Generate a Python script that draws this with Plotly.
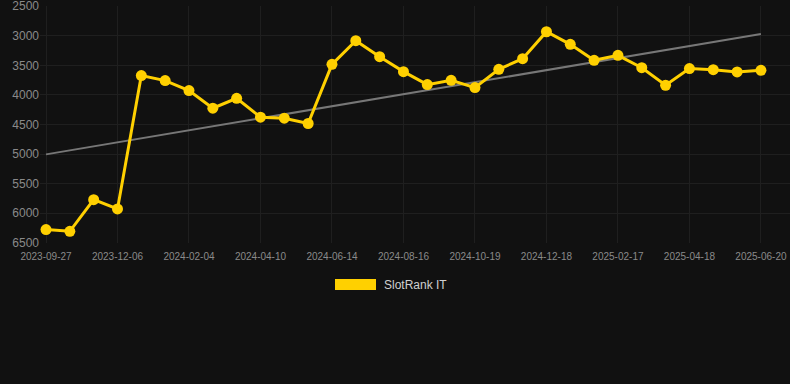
import numpy as np
import plotly.graph_objects as go

# --- data ---
rank_values = [6275, 6304, 5770, 5927, 3674, 3758, 3927, 4225, 4057, 4377,
               4393, 4483, 3484, 3084, 3354, 3607, 3826, 3753, 3877, 3568,
               3388, 2933, 3146, 3416, 3332, 3540, 3837, 3556, 3574, 3612, 3584]
tick_labels = ["2023-09-27", "2023-12-06", "2024-02-04", "2024-04-10", "2024-06-14",
               "2024-08-16", "2024-10-19", "2024-12-18", "2025-02-17", "2025-04-18",
               "2025-06-20"]
y_ticks = [2500, 3000, 3500, 4000, 4500, 5000, 5500, 6000, 6500]
series_name = "SlotRank IT"

x_idx = np.arange(len(rank_values))
coef = np.polyfit(x_idx, rank_values, 1)
trend = np.polyval(coef, [x_idx[0], x_idx[-1]])

BG = "#111111"
GOLD = "#ffd000"

fig = go.Figure()
fig.add_trace(go.Scatter(
    x=[x_idx[0], x_idx[-1]], y=trend, mode="lines",
    line=dict(color="#777777", width=2), showlegend=False, hoverinfo="skip"))
fig.add_trace(go.Scatter(
    x=x_idx, y=rank_values, mode="lines+markers", name=series_name,
    line=dict(color=GOLD, width=3), marker=dict(color=GOLD, size=11),
    showlegend=False))

fig.update_layout(
    width=790, height=384,
    paper_bgcolor=BG, plot_bgcolor=BG,
    margin=dict(l=40, r=0, t=6, b=141),
    font=dict(family="Liberation Sans, Arial, sans-serif", color="#8a8a8a"),
    xaxis=dict(range=[-0.252, 31.22], tickvals=list(x_idx[::3]), ticktext=tick_labels,
               showgrid=True, gridcolor="#1f1f1f", zeroline=False, showline=False,
               tickfont=dict(size=10, color="#8a8a8a"), ticks="", ticklabelstandoff=6),
    yaxis=dict(range=[6502, 2498], tickvals=y_ticks, showgrid=True, gridcolor="#1f1f1f",
               zeroline=False, showline=False, ticks="", ticklabeloverflow="allow",
               tickfont=dict(size=12, color="#8a8a8a")),
    shapes=[dict(type="rect", xref="paper", yref="paper",
                 x0=(335 - 40) / 750, x1=(376 - 40) / 750,
                 y0=(384 - 141 - 290) / 237, y1=(384 - 141 - 279) / 237,
                 fillcolor=GOLD, line=dict(width=0))],
    annotations=[dict(text=series_name, xref="paper", yref="paper",
                      x=(382 - 40) / 750, y=(384 - 141 - 284.5) / 237,
                      xanchor="left", yanchor="middle", showarrow=False,
                      font=dict(size=12, color="#d0d0d0"))],
)

fig.write_html("out.html", config={"displayModeBar": False},
               post_script="document.body.style.margin='0';document.body.style.background='#111111';")
